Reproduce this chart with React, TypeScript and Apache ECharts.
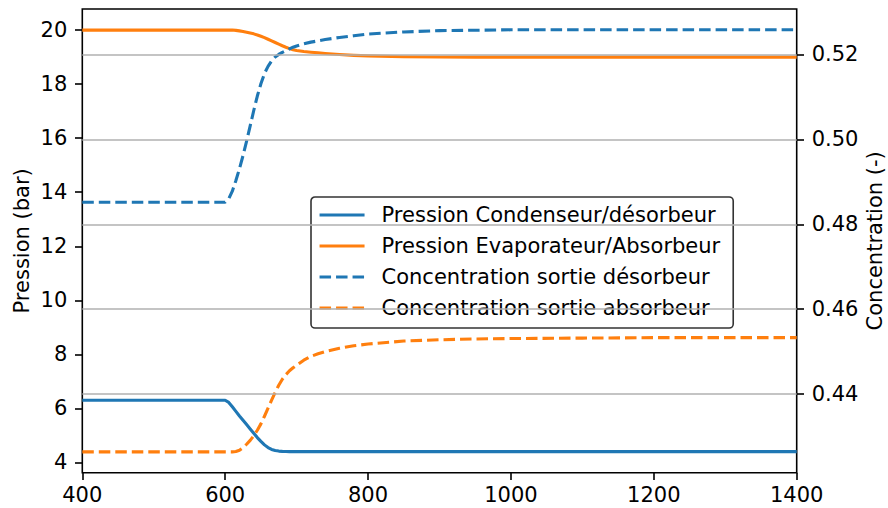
import React, { useEffect, useRef } from "react";
import * as echarts from "echarts";

// Time (x axis)
const times = [400, 600, 605, 610, 615, 620, 625, 630, 635, 640, 645, 650, 655, 660, 665, 670, 675, 680, 685, 690, 695, 700, 710, 720, 730, 740, 760, 780, 800, 850, 900, 950, 1000, 1100, 1200, 1300, 1400];
// Pression Condenseur/désorbeur (bar)
const pCond = [6.30, 6.30, 6.22, 6.06, 5.89, 5.72, 5.56, 5.40, 5.24, 5.08, 4.92, 4.78, 4.65, 4.55, 4.48, 4.44, 4.42, 4.41, 4.405, 4.40, 4.40, 4.40, 4.40, 4.40, 4.40, 4.40, 4.40, 4.40, 4.40, 4.40, 4.40, 4.40, 4.40, 4.40, 4.40, 4.40, 4.40];
// Pression Evaporateur/Absorbeur (bar)
const pEvap = [20.0, 20.0, 20.0, 20.0, 19.99, 19.97, 19.95, 19.92, 19.89, 19.86, 19.82, 19.77, 19.72, 19.66, 19.60, 19.54, 19.48, 19.42, 19.365, 19.315, 19.275, 19.245, 19.205, 19.18, 19.16, 19.135, 19.095, 19.065, 19.045, 19.015, 19.005, 19.0, 19.0, 19.0, 19.0, 19.0, 19.0];
// Concentration sortie désorbeur (-)
const cDes = [0.4852, 0.4852, 0.4860, 0.4878, 0.4903, 0.4931, 0.4962, 0.4996, 0.5032, 0.5068, 0.5102, 0.5131, 0.5155, 0.5172, 0.5185, 0.5194, 0.5200, 0.5205, 0.5209, 0.5213, 0.5217, 0.5220, 0.5225, 0.5229, 0.5232, 0.5235, 0.5240, 0.5244, 0.5248, 0.5253, 0.5256, 0.5257, 0.5258, 0.5258, 0.5258, 0.5258, 0.5258];
// Concentration sortie absorbeur (-)
const cAbs = [0.4264, 0.4264, 0.4264, 0.4264, 0.4265, 0.4268, 0.4274, 0.4282, 0.4291, 0.4302, 0.4315, 0.4330, 0.4348, 0.4367, 0.4386, 0.4404, 0.4421, 0.4435, 0.4446, 0.4455, 0.4462, 0.4468, 0.4480, 0.4489, 0.4495, 0.4500, 0.4508, 0.4514, 0.4518, 0.4525, 0.4528, 0.4530, 0.4531, 0.4532, 0.4533, 0.4533, 0.4533];

const pressTicks = [4, 6, 8, 10, 12, 14, 16, 18, 20];
const concTicks = [0.44, 0.46, 0.48, 0.50, 0.52];

const names = [
  "Pression Condenseur/désorbeur",
  "Pression Evaporateur/Absorbeur",
  "Concentration sortie désorbeur",
  "Concentration sortie absorbeur",
];

const BLUE = "#1f77b4";
const ORANGE = "#ff7f0e";
const FONT = "DejaVu Sans";
const FS = 21;

export default function App() {
  const ref = useRef<HTMLDivElement>(null);
  useEffect(() => {
    if (!ref.current) return;
    const chart = echarts.init(ref.current, undefined, { renderer: "svg" });
    const pts = (arr: number[]) => times.map((t, i) => [t, arr[i]]);
    const dash = [11.5, 5];
    const tickStyle = { show: true, inside: false, length: 7.3, lineStyle: { color: "#000", width: 1.6 } };
    const labelStyle = { color: "#000", fontSize: FS, fontFamily: FONT };
    const lineSeries = (name: string, arr: number[], yAxisIndex: number, color: string, dashed: boolean) => ({
      name,
      type: "line",
      yAxisIndex,
      data: pts(arr),
      symbol: "none",
      showSymbol: false,
      color,
      lineStyle: { color, width: 3.1, type: dashed ? dash : "solid", join: "round" },
      z: 3,
    });
    chart.setOption({
      animation: false,
      backgroundColor: "#fff",
      textStyle: { fontFamily: FONT },
      grid: {
        left: 82.3,
        top: 9,
        right: 91.3,
        bottom: 35.3,
        containLabel: false,
        outerBoundsMode: "none",
        show: true,
        borderColor: "#000",
        borderWidth: 1.6,
        backgroundColor: "transparent",
      },
      legend: {
        data: names,
        orient: "vertical",
        left: 311,
        top: 197,
        padding: [7.5, 13, 9.5, 7],
        itemWidth: 45,
        itemHeight: 21,
        itemGap: 10,
        backgroundColor: "rgba(255,255,255,0.8)",
        borderColor: "#333",
        borderWidth: 1.6,
        borderRadius: 4,
        itemStyle: { opacity: 0, borderWidth: 0 },
        lineStyle: { width: 3.1 },
        textStyle: { color: "#000", fontSize: FS, fontFamily: FONT, lineHeight: 21, padding: [0, 0, 0, 12] },
      },
      xAxis: {
        type: "value",
        min: 400,
        max: 1400,
        interval: 200,
        axisLine: { show: false },
        axisTick: tickStyle,
        splitLine: { show: false },
        axisLabel: { ...labelStyle, margin: 12, formatter: (v: number) => String(v) },
      },
      yAxis: [
        {
          type: "value",
          position: "left",
          min: 3.62,
          max: 20.78,
          name: "Pression (bar)",
          nameLocation: "middle",
          nameRotate: 90,
          nameGap: 50,
          nameMoveOverlap: false,
          nameTextStyle: { ...labelStyle, lineHeight: 21 },
          axisLine: { show: false },
          axisTick: { ...tickStyle, customValues: pressTicks },
          axisLabel: { ...labelStyle, margin: 15, customValues: pressTicks, formatter: (v: number) => String(v) },
          splitLine: { show: false },
        },
        {
          type: "value",
          position: "right",
          min: 0.4215,
          max: 0.5307,
          name: "Concentration (-)",
          nameLocation: "middle",
          nameRotate: 90,
          nameGap: 68,
          nameMoveOverlap: false,
          nameTextStyle: { ...labelStyle, lineHeight: 21 },
          axisLine: { show: false },
          axisTick: { ...tickStyle, customValues: concTicks },
          axisLabel: { ...labelStyle, margin: 15, customValues: concTicks, formatter: (v: number) => v.toFixed(2) },
          splitLine: { show: false },
        },
      ],
      series: [
        {
          name: "grid",
          type: "line",
          yAxisIndex: 1,
          data: [],
          z: 1,
          silent: true,
          markLine: {
            silent: true,
            symbol: ["none", "none"],
            label: { show: false },
            lineStyle: { color: "#b0b0b0", width: 1.6, type: "solid" },
            data: concTicks.map((v) => ({ yAxis: v })),
          },
        },
        lineSeries(names[0], pCond, 0, BLUE, false),
        lineSeries(names[1], pEvap, 0, ORANGE, false),
        lineSeries(names[2], cDes, 1, BLUE, true),
        lineSeries(names[3], cAbs, 1, ORANGE, true),
      ],
    });
    return () => chart.dispose();
  }, []);
  return (
    <div
      ref={ref}
      style={{ position: "fixed", left: 0, top: 0, width: 888, height: 508 }}
    />
  );
}
